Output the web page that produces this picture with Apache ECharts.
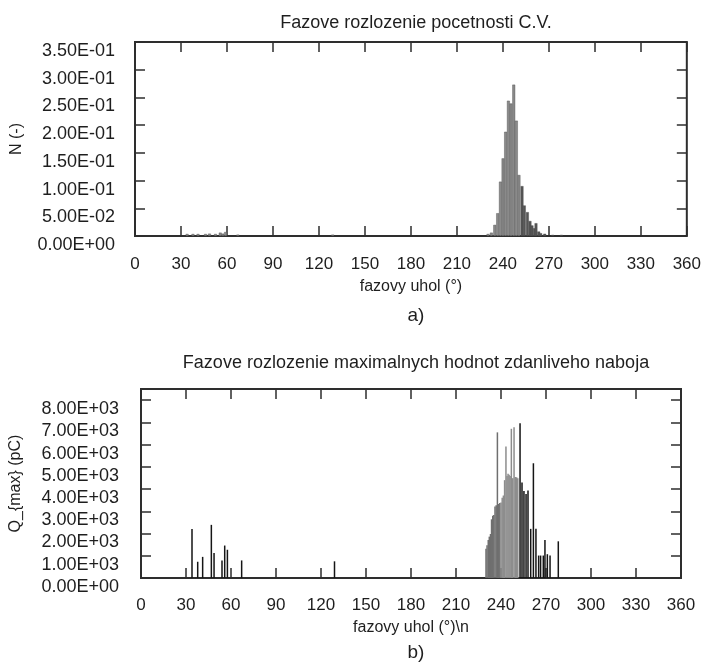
<!DOCTYPE html>
<html><head><meta charset="utf-8">
<script src="https://cdn.jsdelivr.net/npm/echarts@6.0.0/dist/echarts.min.js"></script>
<style>html,body{margin:0;padding:0;background:#fff}#c{width:704px;height:669px}</style>
</head><body><div id="c"></div>
<script>
// ---- Data (a) : phase distribution of counts ----
const countAngles = [34.0, 37.8, 41.1, 46.0, 48.6, 52.5, 55.6, 57.3, 59.1, 67.1, 129.0,
  230.3, 232.5, 234.7, 236.6, 238.4, 240.1, 241.8, 243.6, 245.3, 247.1, 248.8, 250.5,
  252.5, 254.0, 256.0, 257.7, 259.0, 260.6, 261.6, 263.4, 264.7, 267.3, 272.5, 278.2];
const countValues = [0.0036, 0.0036, 0.0036, 0.0036, 0.0042, 0.0036, 0.006, 0.0042, 0.0072, 0.0024, 0.0024,
  0.0036, 0.006, 0.020, 0.041, 0.098, 0.140, 0.188, 0.244, 0.239, 0.273, 0.208, 0.110,
  0.090, 0.055, 0.043, 0.027, 0.019, 0.014, 0.023, 0.008, 0.005, 0.004, 0.002, 0.002];

// ---- Data (b) : phase distribution of max apparent charge ----
const qAngles = [34.0, 37.8, 41.1, 46.9, 48.7, 54.0, 55.8, 57.6, 67.1, 129.0,
  230.0, 230.7, 231.5, 232.2, 233.0, 233.7, 234.5, 235.2, 236.0, 236.8, 237.6, 238.4, 239.2,
  240.0, 240.8, 241.6, 242.4, 243.3, 244.0, 244.7, 245.4, 246.1, 246.9, 247.8, 248.7, 249.5,
  250.4, 251.2, 252.7, 254.0, 255.3, 256.7, 258.0, 259.8, 261.6, 263.3, 265.1, 266.4, 268.2,
  269.3, 270.9, 272.7, 278.2];
const qValues = [2200, 730, 950, 2390, 1120, 790, 1460, 1270, 790, 750,
  1310, 1470, 1710, 1860, 1980, 2640, 2800, 2830, 3210, 3270, 6550, 3330, 3370,
  3400, 3610, 3710, 4400, 5910, 4590, 4690, 4640, 4590, 6710, 4490, 6780, 4540,
  4530, 4490, 6960, 4300, 3910, 3780, 3930, 2210, 5160, 2210, 1010, 1010, 1010,
  1710, 1070, 1010, 1650];

const xTickStep = 30;
const titles = ['Fazove rozlozenie pocetnosti C.V.', 'Fazove rozlozenie maximalnych hodnot zdanliveho naboja'];
const xNames = ['fazovy uhol (°)', 'fazovy uhol (°)\\n'];
const yNames = ['N (-)', 'Q_{max} (pC)'];
const captions = ['a)', 'b)'];

const FONT = 'Liberation Sans, Arial, sans-serif';
const INK = '#1e1e1e';
const FRAME = '#2e2e2e';

function fmtE(v) {
  if (v === 0) return '0.00E+00';
  const parts = v.toExponential(2).split('e');
  const n = parseInt(parts[1], 10);
  return parts[0] + 'E' + (n < 0 ? '-' : '+') + String(Math.abs(n)).padStart(2, '0');
}

function xAx(gi, pos, name, showLabel, margin, gap) {
  return {
    type: 'value', gridIndex: gi, position: pos, min: 0, max: 360, interval: xTickStep,
    axisLine: { show: false, onZero: false },
    axisTick: { show: true, inside: true, length: 10, lineStyle: { color: FRAME, width: 1.5 } },
    axisLabel: { show: showLabel, margin: margin, color: INK, fontFamily: FONT, fontSize: 17 },
    splitLine: { show: false },
    name: showLabel ? name : '', nameLocation: 'middle', nameGap: gap,
    nameTextStyle: { color: INK, fontFamily: FONT, fontSize: 16 }
  };
}
function yAx(gi, pos, max, interval, name, showLabel, gap, margin) {
  return {
    type: 'value', gridIndex: gi, position: pos, min: 0, max: max, interval: interval,
    axisLine: { show: false, onZero: false },
    axisTick: { show: true, inside: true, length: 10, lineStyle: { color: FRAME, width: 1.5 } },
    axisLabel: { show: showLabel, margin: margin, color: INK, fontFamily: FONT, fontSize: 18,
      formatter: fmtE, showMaxLabel: max === 0.35, verticalAlign: 'top' },
    splitLine: { show: false },
    name: showLabel ? name : '', nameLocation: 'middle', nameRotate: 90, nameGap: gap,
    nameTextStyle: { color: INK, fontFamily: FONT, fontSize: 16 }
  };
}

const countData = countAngles.map((a, i) => [a, countValues[i]]);
const qData = qAngles.map((a, i) => [a, qValues[i]]);

const chart = echarts.init(document.getElementById('c'), null, { renderer: 'canvas' });
chart.setOption({
  animation: false,
  backgroundColor: '#fff',
  title: [
    { text: titles[0], left: 411, top: 9, textAlign: 'center',
      textStyle: { fontFamily: FONT, fontSize: 18, fontWeight: 'normal', color: INK } },
    { text: titles[1], left: 411, top: 349, textAlign: 'center',
      textStyle: { fontFamily: FONT, fontSize: 18, fontWeight: 'normal', color: INK } },
    { text: captions[0], left: 411, top: 301, textAlign: 'center',
      textStyle: { fontFamily: FONT, fontSize: 19, fontWeight: 'normal', color: INK } },
    { text: captions[1], left: 411, top: 638, textAlign: 'center',
      textStyle: { fontFamily: FONT, fontSize: 19, fontWeight: 'normal', color: INK } }
  ],
  grid: [
    { left: 135, top: 42, width: 552, height: 194, show: true, borderColor: FRAME, borderWidth: 2, backgroundColor: 'transparent' },
    { left: 141, top: 389, width: 540, height: 189, show: true, borderColor: FRAME, borderWidth: 2, backgroundColor: 'transparent' }
  ],
  xAxis: [
    xAx(0, 'bottom', xNames[0], true, 20, 43),
    xAx(0, 'top', '', false, 0, 0),
    xAx(1, 'bottom', xNames[1], true, 19, 42),
    xAx(1, 'top', '', false, 0, 0)
  ],
  yAxis: [
    yAx(0, 'left', 0.35, 0.05, yNames[0], true, 110, 20),
    yAx(0, 'right', 0.35, 0.05, '', false, 0, 0),
    yAx(1, 'left', 8500, 1000, yNames[1], true, 117, 22),
    yAx(1, 'right', 8500, 1000, '', false, 0, 0)
  ],
  series: [
    { type: 'bar', xAxisIndex: 0, yAxisIndex: 0, data: countData, barWidth: 2.8,
      itemStyle: { color: p => p.value[0] < 252 ? '#8a8a8a' : '#555', borderColor: '#4a4a4a', borderWidth: 0.4 } },
    { type: 'bar', xAxisIndex: 2, yAxisIndex: 2, data: qData, barWidth: 1.5,
      itemStyle: { color: p => (p.value[0] < 200 || p.value[0] >= 252) ? '#151515' : (p.value[0] < 240 ? '#6f6f6f' : '#8d8d8d') } }
  ]
});
</script></body></html>
